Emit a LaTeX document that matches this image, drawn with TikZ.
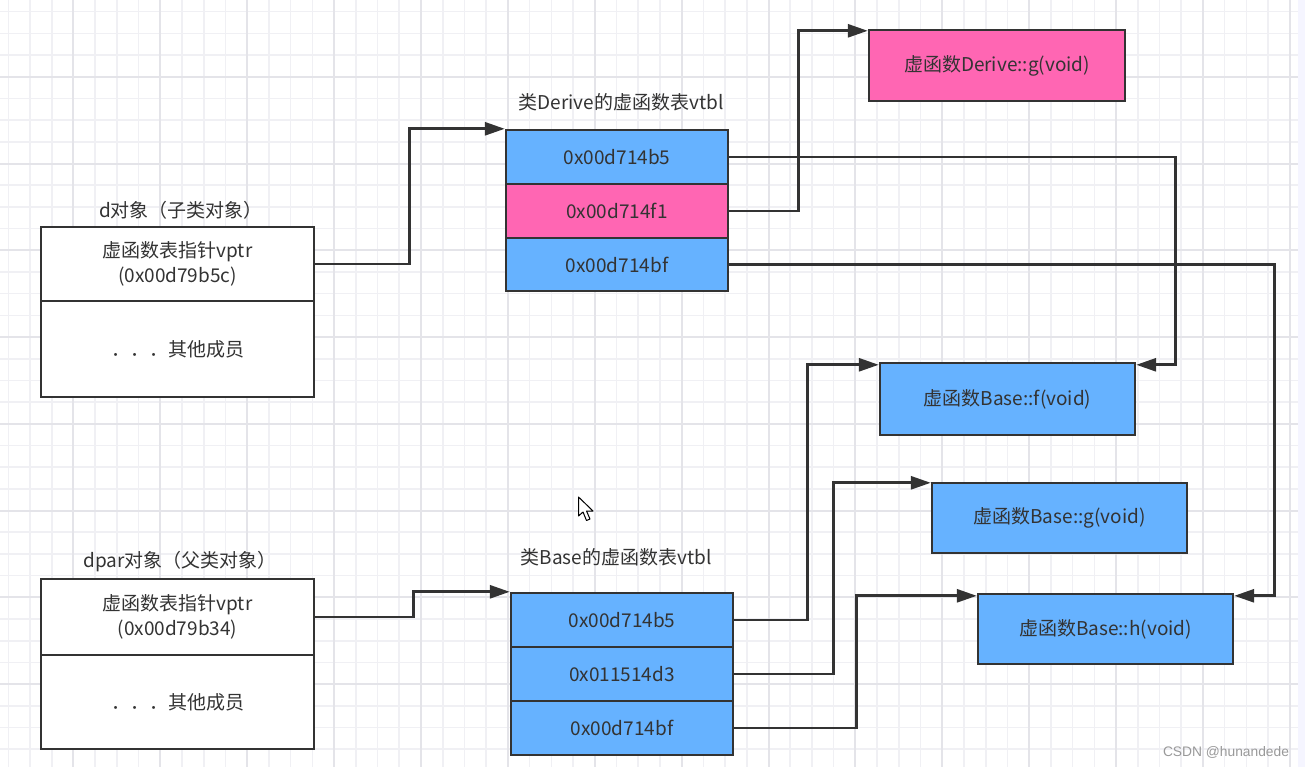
\documentclass[tikz,border=0pt]{standalone}
\usepackage{fontspec}
\setmainfont{Noto Sans CJK SC}
\newfontfamily\wmfont{Liberation Sans}
\usetikzlibrary{arrows.meta}
\definecolor{gridminor}{HTML}{F0F0F4}
\definecolor{gridmajor}{HTML}{E4E4E9}
\definecolor{boxblue}{HTML}{66B2FF}
\definecolor{boxpink}{HTML}{FF66B3}
\definecolor{edge}{HTML}{333333}
\definecolor{txt}{HTML}{333333}
\tikzset{
  cell/.style={draw=edge, line width=2.4pt, inner sep=0pt, text=txt, align=center,
    font=\fontsize{19}{24.5}\selectfont},
  bluecell/.style={cell, fill=boxblue},
  pinkcell/.style={cell, fill=boxpink},
  whitecell/.style={cell, fill=white},
  title/.style={text=txt, inner sep=0pt, font=\fontsize{19}{24}\selectfont},
  conn/.style={draw=edge, line width=2.8pt, -{Triangle[length=20pt,width=13pt]}}
}
\begin{document}
\begin{tikzpicture}[x=1pt,y=-1pt]
\useasboundingbox (0,0) rectangle (1305,767);
\fill[white] (0,0) rectangle (1305,767);
% grid
\foreach \k in {0,...,59} { \draw[gridminor, line width=1.6pt] ({8.3+21.72*\k},0) -- ({8.3+21.72*\k},767); }
\foreach \k in {0,...,34} { \draw[gridminor, line width=1.6pt] (0,{11.7+21.69*\k}) -- (1305,{11.7+21.69*\k}); }
\foreach \k in {3,7,...,59} { \draw[gridmajor, line width=2pt] ({8.3+21.72*\k},0) -- ({8.3+21.72*\k},767); }
\foreach \k in {3,7,...,31} { \draw[gridmajor, line width=2pt] (0,{11.7+21.69*\k}) -- (1305,{11.7+21.69*\k}); }
\fill[blue!4] (1298,0) rectangle (1305,767);

% d object
\node[title] (dtitle) at (181,210) {d对象（子类对象）};
\node[whitecell, minimum width=273pt, minimum height=74pt] (dvp) at (177.5,264) {虚函数表指针vptr\\(0x00d79b5c)};
\node[whitecell, minimum width=273pt, minimum height=96pt] (dmem) at (177.5,349) {．．．其他成员};

% dpar object
\node[title] (dptitle) at (180,562) {dpar对象（父类对象）};
\node[whitecell, minimum width=273pt, minimum height=76pt] (dpvp) at (177.5,617) {虚函数表指针vptr\\(0x00d79b34)};
\node[whitecell, minimum width=273pt, minimum height=94pt] (dpmem) at (177.5,702) {．．．其他成员};

% Derive vtbl
\node[title] (dvtitle) at (621,102) {类Derive的虚函数表vtbl};
\node[bluecell, minimum width=222pt, minimum height=54pt] (dv1) at (617,157) {0x00d714b5};
\node[pinkcell, minimum width=222pt, minimum height=54pt] (dv2) at (617,211) {0x00d714f1};
\node[bluecell, minimum width=222pt, minimum height=53pt] (dv3) at (617,264.5) {0x00d714bf};

% Base vtbl
\node[title] (bvtitle) at (616,557) {类Base的虚函数表vtbl};
\node[bluecell, minimum width=222pt, minimum height=54pt] (bv1) at (622,620) {0x00d714b5};
\node[bluecell, minimum width=222pt, minimum height=54pt] (bv2) at (622,674) {0x011514d3};
\node[bluecell, minimum width=222pt, minimum height=54pt] (bv3) at (622,728) {0x00d714bf};

% function boxes
\node[pinkcell, minimum width=256pt, minimum height=71pt] (Dg) at (997,65.5) {虚函数Derive::g(void)};
\node[bluecell, minimum width=255pt, minimum height=72pt] (Bf) at (1007.5,399) {虚函数Base::f(void)};
\node[bluecell, minimum width=255pt, minimum height=70pt] (Bg) at (1059.5,518) {虚函数Base::g(void)};
\node[bluecell, minimum width=255pt, minimum height=70pt] (Bh) at (1105.5,629) {虚函数Base::h(void)};

% connectors
\draw[conn] (dvp.east) -- ++(94,0) |- (dv1.north west);
\draw[conn] (dv1.east) -- ++(446,0) |- ([yshift=-3pt]Bf.north east);
\draw[conn] (dv2.east) -- ++(69,0) |- ([yshift=-2pt]Dg.north west);
\draw[conn] (dv3.east) -- ++(545,0) |- ([yshift=-3pt]Bh.north east);
\draw[conn] (dpvp.east) -- ++(98,0) |- (bv1.north west);
\draw[conn] (bv1.east) -- ++(73,0) |- ([yshift=-3pt]Bf.north west);
\draw[conn] (bv2.east) -- ++(99,0) |- ([yshift=-1pt]Bg.north west);
\draw[conn] (bv3.east) -- ++(122,0) |- ([yshift=-3pt]Bh.north west);

% mouse cursor
\filldraw[fill=white, draw=black, line width=1pt, line join=round]
  (578.5,497) -- (578.5,516) -- (583,512) -- (586.5,520.5) -- (590,519) -- (586.5,511) -- (593,511) -- cycle;

% watermark
\node[text=black!40, inner sep=0pt, font=\wmfont\fontsize{13.8}{16}\selectfont] (wm) at (1226,752) {CSDN @hunandede};
\end{tikzpicture}
\end{document}
